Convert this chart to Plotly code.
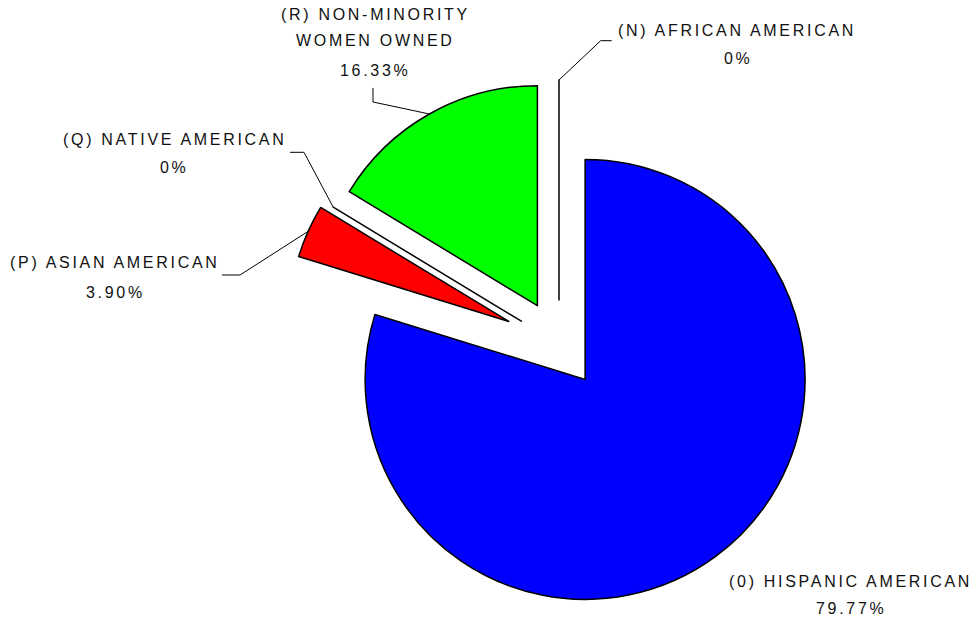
import math
import plotly.graph_objects as go

# ---------------- data ----------------
labels = ["(0) HISPANIC AMERICAN", "(P) ASIAN AMERICAN", "(Q) NATIVE AMERICAN",
          "(R) NON-MINORITY WOMEN OWNED", "(N) AFRICAN AMERICAN"]
values = [79.77, 3.90, 0.0, 16.33, 0.0]
pct_text = ["79.77%", "3.90%", "0%", "16.33%", "0%"]
label_lines = [["(0) HISPANIC AMERICAN"], ["(P) ASIAN AMERICAN"], ["(Q) NATIVE AMERICAN"],
               ["(R) NON-MINORITY", "WOMEN OWNED"], ["(N) AFRICAN AMERICAN"]]
colors = ["#0000FF", "#FF0000", "#FFFFFF", "#00FF00", "#FFFFFF"]
pulls = [0.2, 0.25, 0.2, 0.2, 0.2]

# ---------------- layout constants ----------------
W, H = 977, 619
DOM_X = [0.2907, 0.8536]
DOM_Y = [0.0, 0.8885]
FONT = dict(family="Liberation Sans, Arial, sans-serif", size=16, color="#111111")
SPACING = "2.7px"

# label line centres (pixels) per slice: list of (x, y) for each text line incl. percentage
label_pos = [
    [(850, 581), (851, 608)],
    [(115, 262), (115, 292)],
    [(174, 139), (174, 167)],
    [(375, 15), (375, 41), (375, 70)],
    [(737, 31), (738, 58)],
]
# leader line elbows (pixels) per slice, after the anchor on the slice
leader_elbows = [
    None,
    [(240, 275), (222, 275)],
    [(304, 152.3), (290, 152.3)],
    [(373, 102), (373, 88)],
    [(600.7, 40.7), (611.7, 40.7)],
]

# ---------------- geometry of the pie (mirrors plotly's layout) ----------------
cx = W * (DOM_X[0] + DOM_X[1]) / 2
cy = H * (1 - (DOM_Y[0] + DOM_Y[1]) / 2)
r = min(W * (DOM_X[1] - DOM_X[0]), H * (DOM_Y[1] - DOM_Y[0])) / 2 / (1 + max(pulls))
total = sum(values)


def direction(deg):
    a = math.radians(deg)
    return math.sin(a), -math.cos(a)


def to_paper(px, py):
    return px / W, 1 - py / H


anchors = []
cum = 0.0
for v, p in zip(values, pulls):
    a0 = 360 * cum / total
    a1 = 360 * (cum + v) / total
    mid = (a0 + a1) / 2
    dx, dy = direction(mid)
    pcx, pcy = cx + p * r * dx, cy + p * r * dy
    anchors.append((pcx + r * dx, pcy + r * dy))
    cum += v

fig = go.Figure(go.Pie(
    labels=labels,
    values=values,
    sort=False,
    direction="clockwise",
    rotation=0,
    pull=pulls,
    textinfo="none",
    hoverinfo="label+percent",
    marker=dict(colors=colors, line=dict(color="#000000", width=1.5)),
    domain=dict(x=DOM_X, y=DOM_Y),
    showlegend=False,
))

shapes = []
for i, elb in enumerate(leader_elbows):
    if not elb:
        continue
    pts = [anchors[i]] + elb
    path = ""
    for j, (px, py) in enumerate(pts):
        xp, yp = to_paper(px, py)
        path += ("M" if j == 0 else " L") + f" {xp:.5f} {yp:.5f}"
    shapes.append(dict(type="path", path=path, xref="paper", yref="paper",
                       line=dict(color="#000000", width=1)))

annotations = []
for i in range(len(labels)):
    lines = label_lines[i] + [pct_text[i]]
    for (px, py), t in zip(label_pos[i], lines):
        xp, yp = to_paper(px, py)
        annotations.append(dict(
            x=xp, y=yp, xref="paper", yref="paper", xanchor="center", yanchor="middle",
            text=f'<span style="letter-spacing:{SPACING}">{t}</span>',
            showarrow=False, font=FONT))

fig.update_layout(
    width=W, height=H,
    margin=dict(l=0, r=0, t=0, b=0),
    paper_bgcolor="white", plot_bgcolor="white",
    shapes=shapes, annotations=annotations,
)

fig.write_html("out.html")
